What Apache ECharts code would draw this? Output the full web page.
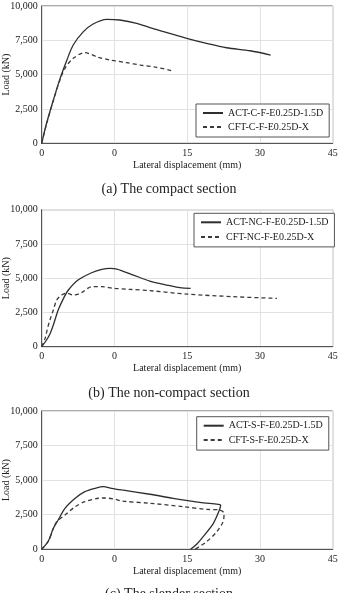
<!DOCTYPE html>
<html>
<head>
<meta charset="utf-8">
<script src="https://cdn.jsdelivr.net/npm/echarts@6/dist/echarts.min.js"></script>
<style>
  html, body { margin: 0; padding: 0; background: #fff; }
  #chart { width: 338px; height: 593px; }
</style>
</head>
<body>
<div id="chart"></div>
<script>
// x values are in chart units; the axis labels are printed as in the original figure
const xTickLabels = ['0', '0', '15', '30', '45']
const yTicks = [0, 2500, 5000, 7500, 10000]

const captions = ['(a) The compact section', '(b) The non-compact section', '(c) The slender section']
const actNames = ['ACT-C-F-E0.25D-1.5D', 'ACT-NC-F-E0.25D-1.5D', 'ACT-S-F-E0.25D-1.5D']
const cftNames = ['CFT-C-F-E0.25D-X', 'CFT-NC-F-E0.25D-X', 'CFT-S-F-E0.25D-X']

// (a) compact
const actCompact = [[0, 0], [1.0, 1460], [2.4, 3150], [3.8, 4730], [5.2, 6070], [6.5, 7160], [8.6, 8130],
  [10.6, 8690], [13.4, 9030], [16.1, 8980], [19.6, 8740], [22.3, 8420], [24.4, 8200], [29.9, 7650],
  [34, 7280], [38.1, 6960], [43, 6740], [47.2, 6430]]
const cftCompact = [[0, 0], [1.0, 1400], [2.4, 3100], [3.8, 4650], [4.8, 5460], [6.5, 6190], [8.9, 6600],
  [11.7, 6260], [14.1, 6070], [17.5, 5870], [20.3, 5700], [23.7, 5530], [26.8, 5290]]

// (b) non-compact
const actNonCompact = [[0, 0], [1.0, 490], [1.7, 930], [2.4, 1580], [3.4, 2680], [4.5, 3530], [5.5, 4140],
  [7.5, 4870], [10.3, 5400], [12.4, 5650], [14.1, 5720], [15.5, 5670], [18.9, 5230], [22.3, 4790],
  [25.8, 4500], [28.5, 4310], [30.7, 4260]]
const cftNonCompact = [[0, 0], [0.7, 610], [1.2, 1340], [1.7, 1950], [2.4, 2680], [3.1, 3410], [4.1, 3770],
  [5.2, 3900], [6.5, 3770], [8.2, 3940], [10.3, 4380], [12.4, 4380], [14.8, 4260], [18, 4190],
  [22.3, 4090], [29.9, 3840], [39.5, 3650], [48.5, 3530]]

// (c) slender
const actSlender = [[0, 0], [1.4, 620], [2.4, 1520], [3.4, 2120], [4.8, 2960], [6.9, 3690], [8.9, 4170],
  [11, 4410], [12.7, 4530], [14.4, 4410], [16.5, 4290], [22.3, 3980], [27.1, 3690], [32.6, 3400],
  [36.4, 3250], [36.9, 3200], [36.5, 2720], [35.4, 1880], [33.3, 910], [32, 380], [30.7, 0]]
const cftSlender = [[0, 0], [1.4, 600], [2.4, 1500], [3.1, 2000], [4.8, 2480], [6.9, 3080], [8.9, 3440],
  [11.7, 3690], [13.1, 3710], [15.1, 3620], [16.5, 3490], [22.3, 3330], [29.2, 3080], [34, 2890],
  [36.6, 2850], [37.6, 2600], [37.4, 2000], [36.1, 1270], [34, 550], [31.6, 0]]

const actData = [actCompact, actNonCompact, actSlender]
const cftData = [cftCompact, cftNonCompact, cftSlender]

const font = 'Liberation Serif'
const gridTops = [6, 209.7, 411]
const gridHeights = [137.3, 137, 138.3]
const captionTops = [182, 386, 587.5]
const legendBoxes = [
  { left: 196, top: 104, gap: 4 },
  { left: 194, top: 213.3, gap: 4.6 },
  { left: 196.7, top: 416.7, gap: 4.4 }
]

const myChart = echarts.init(document.getElementById('chart'))

const grid = [], xAxis = [], yAxis = [], series = [], legend = [], title = []
for (let i = 0; i < 3; i++) {
  grid.push({
    left: 41.7, right: 5.3, top: gridTops[i], height: gridHeights[i],
    containLabel: false, outerBoundsMode: 'none',
    show: true, borderColor: '#555', borderWidth: 1
  })
  xAxis.push({
    type: 'value', gridIndex: i, min: 0, max: 60, interval: 15,
    name: 'Lateral displacement (mm)', nameLocation: 'middle', nameGap: 17,
    nameMoveOverlap: false,
    nameTextStyle: { fontFamily: font, fontSize: 10, color: '#222' },
    axisLine: { show: true, lineStyle: { color: '#555' } },
    axisTick: { show: false },
    axisLabel: {
      fontFamily: font, fontSize: 10, color: '#222', margin: 5,
      formatter: v => xTickLabels[Math.round(v / 15)]
    },
    splitLine: { show: true, lineStyle: { color: '#e2e2e2' } }
  })
  yAxis.push({
    type: 'value', gridIndex: i, min: yTicks[0], max: yTicks[yTicks.length - 1], interval: 2500,
    name: 'Load (kN)', nameLocation: 'middle', nameGap: 30,
    nameMoveOverlap: false,
    nameTextStyle: { fontFamily: font, fontSize: 10, color: '#222' },
    axisLine: { show: true, lineStyle: { color: '#555' } },
    axisTick: { show: false },
    axisLabel: {
      fontFamily: font, fontSize: 10, color: '#222', margin: 4,
      formatter: v => v.toLocaleString('en-US')
    },
    splitLine: { show: true, lineStyle: { color: '#e2e2e2' } }
  })
  series.push({
    name: actNames[i], type: 'line', xAxisIndex: i, yAxisIndex: i,
    data: actData[i], symbol: 'none', smooth: 0.3, animation: false,
    lineStyle: { color: '#2e2e2e', width: 1.3, type: 'solid' }, itemStyle: { color: '#2e2e2e' }
  })
  series.push({
    name: cftNames[i], type: 'line', xAxisIndex: i, yAxisIndex: i,
    data: cftData[i], symbol: 'none', smooth: 0.3, animation: false,
    lineStyle: { color: '#3a3a3a', width: 1.3, type: [4, 3] }, itemStyle: { color: '#3a3a3a' }
  })
  legend.push({
    data: [actNames[i], cftNames[i]],
    orient: 'vertical', left: legendBoxes[i].left, top: legendBoxes[i].top,
    itemWidth: 20, itemHeight: 10, itemGap: legendBoxes[i].gap,
    padding: [4, 6, 5, 6],
    borderColor: '#555', borderWidth: 1, backgroundColor: '#fff',
    itemStyle: { opacity: 0 },
    textStyle: { fontFamily: font, fontSize: 10, color: '#222' }
  })
  title.push({
    text: captions[i], left: 'center', top: captionTops[i], padding: 0,
    textStyle: { fontFamily: font, fontSize: 14, fontWeight: 'normal', color: '#222' }
  })
}

myChart.setOption({ animation: false, title, legend, grid, xAxis, yAxis, series })
</script>
</body>
</html>
